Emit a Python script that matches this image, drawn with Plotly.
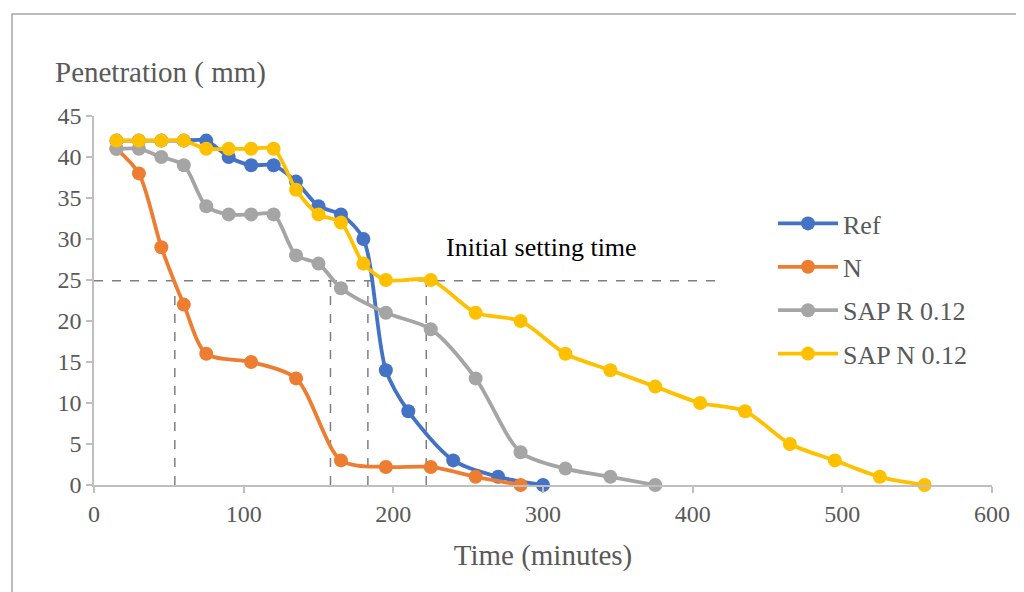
import plotly.graph_objects as go

# ---- data ----
ref_x = [15, 30, 45, 60, 75, 90, 105, 120, 135, 150, 165, 180, 195, 210, 240, 270, 300]
ref_y = [42, 42, 42, 42, 42, 40, 39, 39, 37, 34, 33, 30, 14, 9, 3, 1, 0]

n_x = [15, 30, 45, 60, 75, 105, 135, 165, 195, 225, 255, 285]
n_y = [41, 38, 29, 22, 16, 15, 13, 3, 2.2, 2.2, 1, 0]

sapr_x = [15, 30, 45, 60, 75, 90, 105, 120, 135, 150, 165, 195, 225, 255, 285, 315, 345, 375]
sapr_y = [41, 41, 40, 39, 34, 33, 33, 33, 28, 27, 24, 21, 19, 13, 4, 2, 1, 0]

sapn_x = [15, 30, 45, 60, 75, 90, 105, 120, 135, 150, 165, 180, 195, 225, 255, 285, 315,
          345, 375, 405, 435, 465, 495, 525, 555]
sapn_y = [42, 42, 42, 42, 41, 41, 41, 41, 36, 33, 32, 27, 25, 25, 21, 20, 16,
          14, 12, 10, 9, 5, 3, 1, 0]

setting_threshold = 24.9
setting_line_end = 417
setting_times = [54, 158, 183, 222]

x_ticks = [0, 100, 200, 300, 400, 500, 600]
y_ticks = [0, 5, 10, 15, 20, 25, 30, 35, 40, 45]

series = [
    ("Ref", ref_x, ref_y, "#4472C4"),
    ("N", n_x, n_y, "#ED7D31"),
    ("SAP R 0.12", sapr_x, sapr_y, "#A5A5A5"),
    ("SAP N 0.12", sapn_x, sapn_y, "#FFC000"),
]

FONT = "Liberation Serif, Times New Roman, serif"
GREY_TXT = "#595959"
AX = "#BFBFBF"

# plot-area geometry (page pixels, accounting for 8px body offset)
OX, OY = 7, 8
PL, PR, PT, PB = 93 - OX, 991 - OX, 116 - OY, 485 - OY
W, H = 1024, 592
PW, PH = PR - PL, PB - PT


def px(xp):
    return (xp - OX - PL) / PW


def py(yp):
    return (PB - (yp - OY)) / PH


fig = go.Figure()
for i, (name, xs, ys, col) in enumerate(series):
    fig.add_trace(go.Scatter(
        x=xs, y=ys, name=name, mode="lines+markers",
        line=dict(color=col, width=3.8, shape="spline", smoothing=0.8),
        marker=dict(color=col, size=14),
        legendgroup=f"g{i}",
        cliponaxis=False,
    ))

shapes = []
shapes.append(dict(type="line", xref="x", yref="y", x0=0, x1=setting_line_end,
                   y0=setting_threshold, y1=setting_threshold,
                   line=dict(color="#7F7F7F", width=1.5, dash="dash"), layer="below"))
for t in setting_times:
    shapes.append(dict(type="line", xref="x", yref="y", x0=t, x1=t,
                       y0=0, y1=setting_threshold,
                       line=dict(color="#7F7F7F", width=1.5, dash="dash"), layer="below"))
# outer chart border
shapes.append(dict(type="rect", xref="paper", yref="paper",
                   x0=px(11), x1=px(1021), y0=py(640), y1=py(14),
                   line=dict(color="#A6A6A6", width=1.5)))

fig.update_layout(
    width=W, height=H,
    margin=dict(l=PL, r=W - PR, t=PT, b=H - PB),
    paper_bgcolor="white", plot_bgcolor="white",
    font=dict(family=FONT, color=GREY_TXT, size=24),
    shapes=shapes,
    showlegend=True,
    legend=dict(x=px(772), y=py(200), xanchor="left", yanchor="top",
                font=dict(size=26, color=GREY_TXT, family=FONT),
                tracegroupgap=6.6, bgcolor="rgba(0,0,0,0)", itemwidth=60),
    annotations=[
        dict(text="Initial setting time", x=px(540), y=py(248), xref="paper", yref="paper",
             showarrow=False, font=dict(size=26, color="#000000", family=FONT)),
        dict(text="Penetration ( mm)", xref="paper", yref="paper",
             x=px(52), y=py(72), xanchor="left", yanchor="middle",
             showarrow=False, font=dict(size=29, color=GREY_TXT, family=FONT)),
    ],
    xaxis=dict(range=[0, 600], tickvals=x_ticks, showgrid=False, zeroline=False,
               showline=True, linecolor=AX, linewidth=1.5,
               ticks="outside", tickcolor=AX, ticklen=6, tickwidth=1.5,
               tickfont=dict(size=24, color=GREY_TXT),
               title=dict(text="Time (minutes)", font=dict(size=29, color=GREY_TXT), standoff=19)),
    yaxis=dict(range=[0, 45], tickvals=y_ticks, showgrid=False, zeroline=False,
               showline=True, linecolor=AX, linewidth=1.5,
               ticks="outside", tickcolor=AX, ticklen=6, tickwidth=1.5,
               tickfont=dict(size=24, color=GREY_TXT)),
)

fig.write_html("out.html")
